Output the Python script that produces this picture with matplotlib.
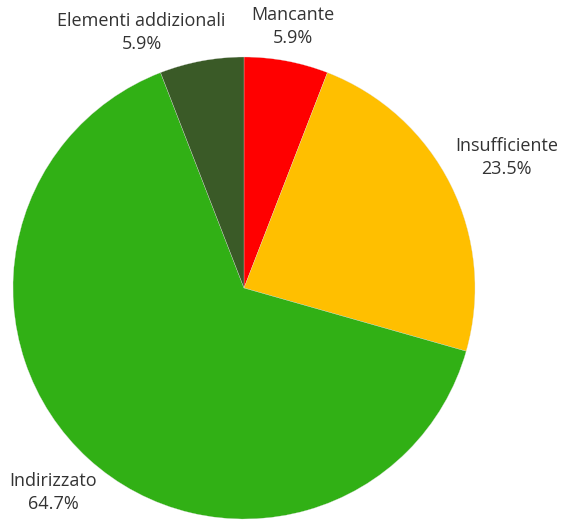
import numpy as np
import matplotlib
matplotlib.use("Agg")
import matplotlib.pyplot as plt

plt.rcParams['font.family'] = ['Open Sans', 'DejaVu Sans']

labels = ["Mancante", "Insufficiente", "Indirizzato", "Elementi addizionali"]
counts = [1, 4, 11, 1]
colors = ["#ff0000", "#ffbf00", "#31b015", "#3a5a27"]

# label placement: radial distance and angle nudge (degrees) per slice
label_dist = [1.15, 1.27, 1.21, 1.19]
label_shift = [0, 0, -0.7, 11.3]

fig = plt.figure(figsize=(5.61, 5.20), dpi=100)
cx, cy, r = 244, 288, 231
ax = fig.add_axes([(cx - r) / 561, (520 - cy - r) / 520, 2 * r / 561, 2 * r / 520])

wedges, _ = ax.pie(counts, colors=colors, startangle=90, counterclock=False,
                   wedgeprops=dict(edgecolor="#dddddd", linewidth=0.2))

total = sum(counts)
for w, lab, n, d, s in zip(wedges, labels, counts, label_dist, label_shift):
    ang = np.deg2rad((w.theta1 + w.theta2) / 2 + s)
    ax.text(d * np.cos(ang), d * np.sin(ang), f"{lab}\n{n / total * 100:.1f}%",
            ha="center", va="center", fontsize=13, color="#333333", linespacing=1.35)

ax.set_xlim(-1, 1)
ax.set_ylim(-1, 1)
ax.set_aspect("equal")
ax.axis("off")

fig.savefig("out.png", dpi=100)
